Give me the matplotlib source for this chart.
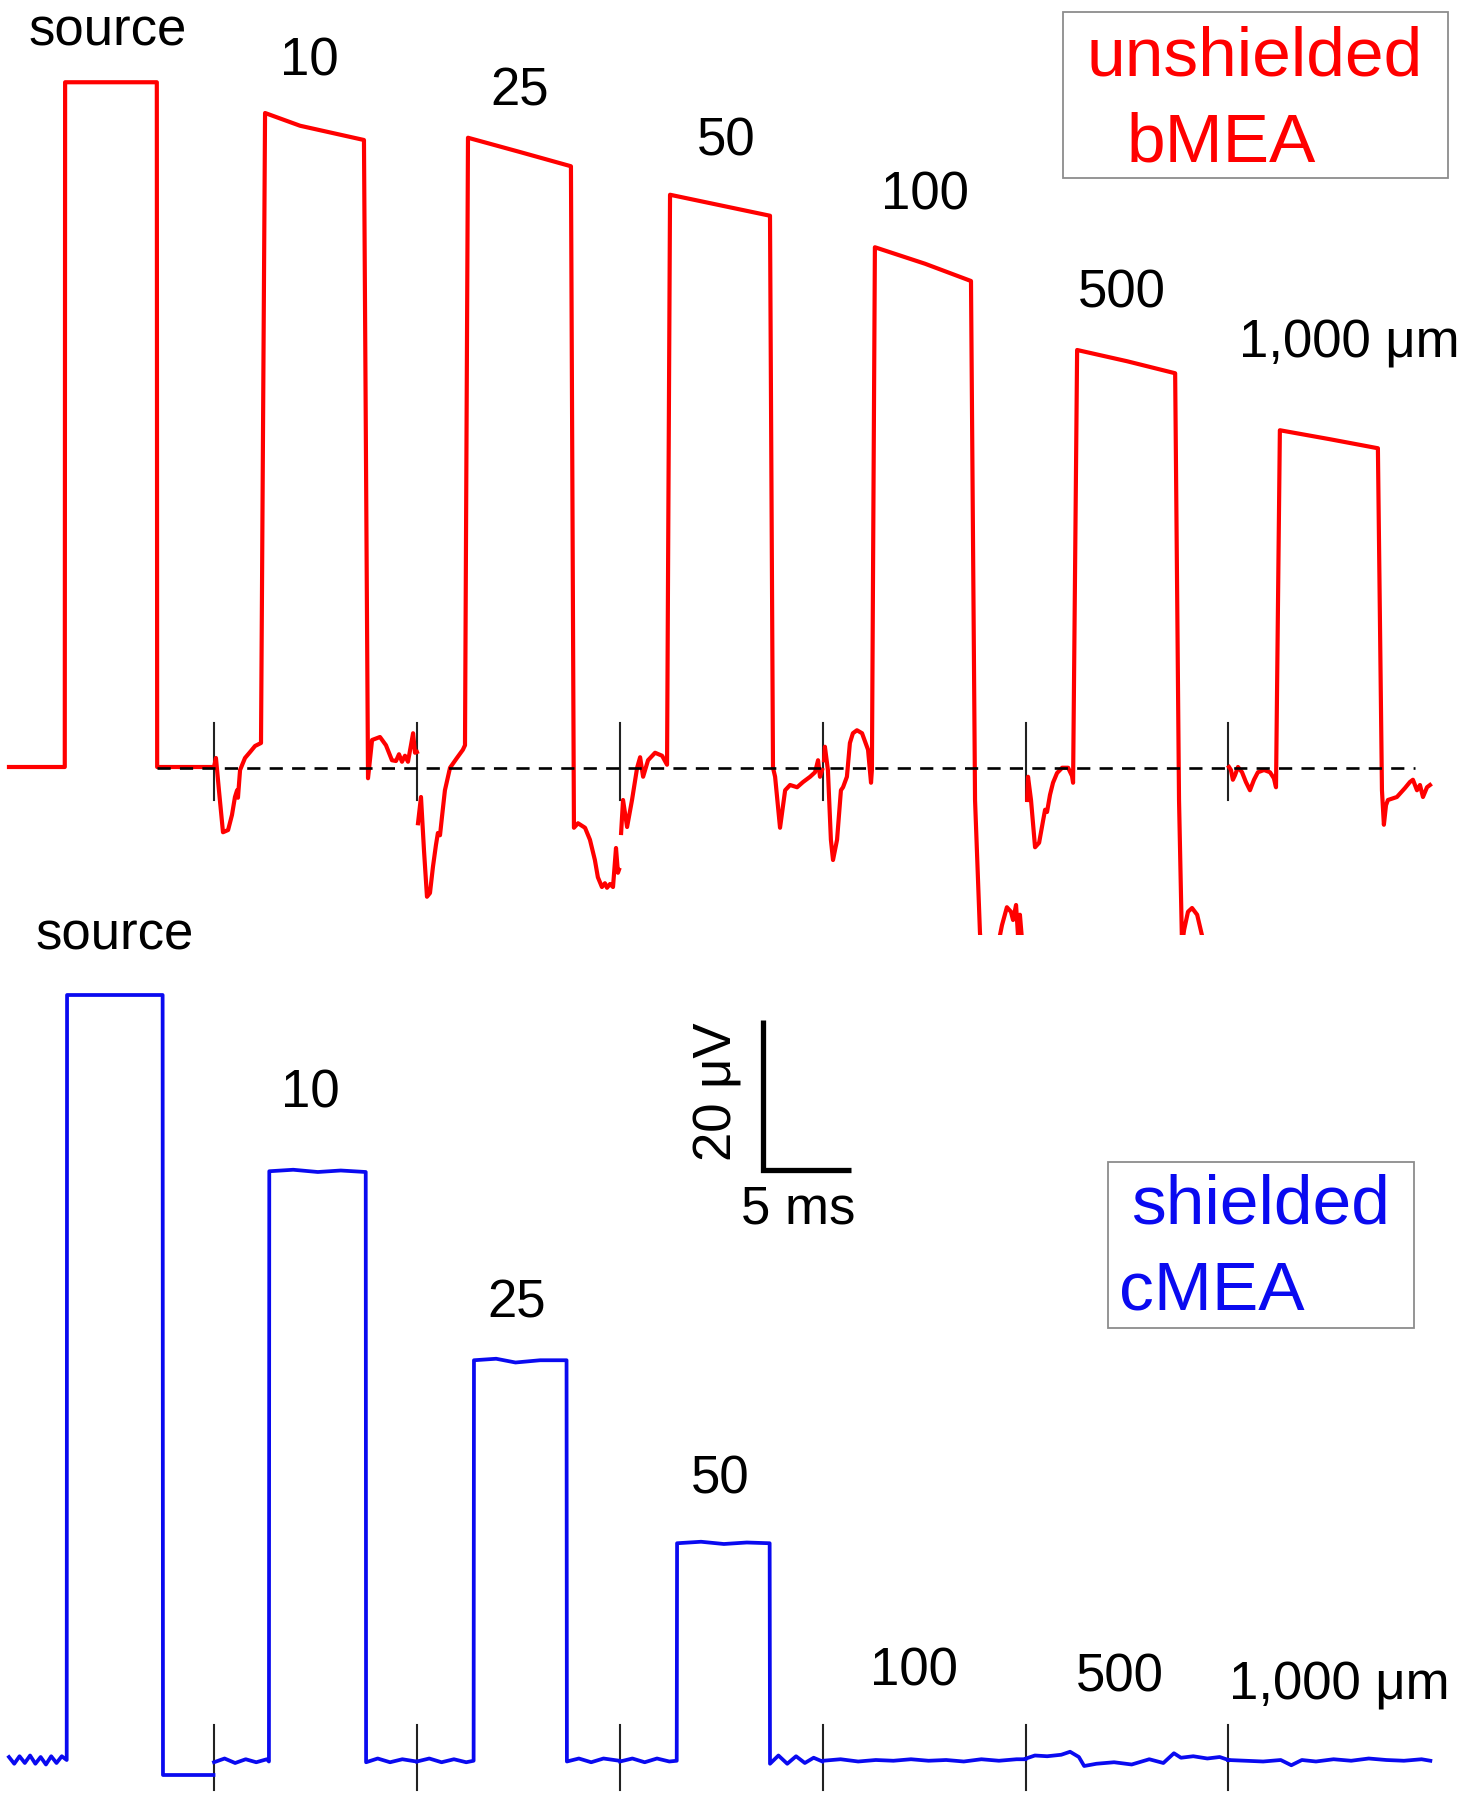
import matplotlib
matplotlib.use("Agg")
import matplotlib.pyplot as plt
from matplotlib.patches import Rectangle

plt.rcParams["font.family"] = ["Liberation Sans", "DejaVu Sans"]

# start of each sweep on the shared time axis (ms): source, then 10 ... 1000 µm
SWEEP_START = [0.51, 12.16, 23.69, 35.23, 46.76, 58.30, 69.77]
DIST_LABELS = ["source", "10", "25", "50", "100", "500", "1,000 μm"]

# ---- unshielded bMEA (red) : time from sweep start (ms), amplitude (µV) ----
red_src_t = [0.0, 3.17, 3.19, 8.40, 8.42, 11.65]
red_src_v = [0.0, 0.0, 91.3, 91.3, 0.0, 0.0]
red_10_t = [0.0, 0.11, 0.28, 0.51, 0.80, 1.02, 1.19, 1.31, 1.36, 1.48, 1.76, 2.05, 2.33, 2.67, 2.90, 4.89,
            8.52, 8.75, 8.98, 9.43, 9.77, 10.11, 10.34, 10.51, 10.68, 10.85, 11.02, 11.19, 11.31, 11.42, 11.53]
red_10_v = [0.0, 1.2, -3.1, -8.7, -8.4, -6.4, -4.0, -3.1, -4.1, -0.4, 1.2, 2.0, 2.8, 3.2, 87.2, 85.5,
            83.6, -1.5, 3.6, 4.0, 2.9, 0.9, 0.8, 1.7, 0.7, 1.5, 0.7, 2.9, 4.5, 1.9, 2.0]
red_25_t = [0.06, 0.23, 0.40, 0.57, 0.74, 0.91, 1.08, 1.19, 1.31, 1.42, 1.59, 1.88, 2.27, 2.61, 2.73, 2.90,
            5.85, 8.75, 8.92, 9.15, 9.55, 9.83, 10.11, 10.28, 10.51, 10.68, 10.80, 10.97, 11.14, 11.31, 11.42, 11.48]
red_25_v = [-7.5, -4.0, -11.1, -17.3, -16.8, -13.3, -10.4, -8.8, -9.1, -6.7, -3.1, -0.1, 1.2, 2.3, 2.9, 83.9,
            82.0, 80.1, -8.1, -7.5, -8.1, -9.7, -12.4, -14.7, -16.0, -15.5, -16.1, -15.6, -16.0, -10.8, -14.1, -13.7]
red_50_t = [0.06, 0.17, 0.40, 0.68, 0.97, 1.14, 1.31, 1.59, 1.99, 2.39, 2.67, 2.84, 5.68,
            8.52, 8.69, 8.81, 9.09, 9.38, 9.66, 10.06, 10.40, 10.80, 11.08, 11.25, 11.36, 11.48]
red_50_v = [-8.8, -4.4, -8.0, -4.4, -0.1, 1.3, -1.3, 0.9, 1.9, 1.5, 0.3, 76.3, 74.9,
            73.5, -0.1, -1.3, -8.1, -3.1, -2.4, -2.7, -2.0, -1.3, -0.7, 0.9, -1.3, -0.4]
red_100_t = [0.06, 0.11, 0.28, 0.45, 0.57, 0.80, 1.02, 1.14, 1.36, 1.53, 1.70, 1.93, 2.22, 2.56, 2.73, 2.78, 2.95,
             5.80, 8.41, 8.64, 8.92, 9.03, 9.49, 9.89, 10.17, 10.45, 10.68, 10.80, 10.97, 11.08, 11.19, 11.31, 11.48]
red_100_v = [0.9, 2.7, -0.4, -9.7, -12.4, -9.7, -3.1, -2.7, -1.3, 3.2, 4.5, 4.9, 4.5, 2.3, -2.1, -0.4, 69.3,
             67.1, 64.8, -4.4, -22.1, -25.7, -28.4, -24.4, -21.1, -18.7, -19.3, -20.4, -18.4, -22.4, -19.7, -23.1, -24.4]
red_500_t = [0.06, 0.11, 0.28, 0.51, 0.74, 0.97, 1.08, 1.19, 1.36, 1.53, 1.76, 2.05, 2.39, 2.61, 2.67, 2.90,
             5.74, 8.47, 8.69, 8.86, 8.98, 9.20, 9.43, 9.72, 10.06, 10.34, 11.42]
red_500_v = [-4.4, -1.3, -4.4, -10.7, -10.1, -7.1, -5.7, -6.0, -3.7, -2.1, -0.8, -0.1, -0.1, -1.2, -2.1, 55.6,
             54.1, 52.5, -4.4, -23.7, -21.7, -19.3, -18.8, -19.7, -23.1, -25.7, -27.1]
red_1000_t = [0.06, 0.17, 0.28, 0.40, 0.57, 0.80, 1.02, 1.25, 1.48, 1.70, 2.05, 2.39, 2.61, 2.73, 2.95,
              5.80, 8.52, 8.75, 8.86, 8.98, 9.09, 9.60, 10.06, 10.34, 10.51, 10.74, 10.91, 11.08, 11.31, 11.48]
red_1000_v = [0.0, -0.4, -1.7, -1.1, 0.0, -0.7, -2.0, -3.1, -1.7, -0.7, -0.4, -0.7, -1.5, -2.7, 44.9,
              43.7, 42.5, -3.1, -7.7, -5.1, -4.4, -4.0, -2.8, -2.0, -1.7, -3.1, -2.4, -4.0, -2.7, -2.4]

# ---- shielded cMEA (blue) ----
blue_src_t = [0.0, 0.3, 0.6, 0.9, 1.2, 1.5, 1.8, 2.1, 2.4, 2.7, 3.0, 3.28, 3.30, 8.73, 8.75, 11.62]
blue_src_v = [0.4, -0.5, 0.5, -0.4, 0.6, -0.5, 0.4, -0.6, 0.5, -0.4, 0.5, 0.0, 102.0, 102.0, -2.0, -2.0]
blue_10_t = [0.0, 0.6, 1.2, 1.8, 2.4, 3.0, 3.12, 3.14, 4.5, 5.9, 7.2, 8.62, 8.64, 9.3, 10.0, 10.7, 11.5]
blue_10_v = [-0.3, 0.2, -0.4, 0.1, -0.3, 0.1, -0.2, 78.5, 78.7, 78.4, 78.6, 78.4, -0.3, 0.2, -0.3, 0.1, -0.2]
blue_25_t = [0.0, 0.7, 1.4, 2.1, 2.8, 3.22, 3.24, 4.5, 5.6, 7.0, 8.50, 8.52, 9.2, 9.9, 10.6, 11.5]
blue_25_v = [-0.2, 0.2, -0.3, 0.1, -0.3, -0.1, 53.3, 53.5, 53.0, 53.3, 53.3, -0.2, 0.2, -0.3, 0.2, -0.1]
blue_50_t = [0.0, 0.7, 1.4, 2.1, 2.8, 3.22, 3.24, 4.6, 5.9, 7.2, 8.50, 8.52, 9.0, 9.5, 10.0, 10.5, 11.0, 11.5]
blue_50_v = [-0.2, 0.2, -0.3, 0.2, -0.2, -0.1, 28.9, 29.1, 28.8, 29.0, 28.9, -0.5, 0.6, -0.5, 0.5, -0.4, 0.3, -0.2]
blue_100_t = [0.0, 1.0, 2.0, 3.0, 4.0, 5.0, 6.0, 7.0, 8.0, 9.0, 10.0, 11.0, 11.5]
blue_100_v = [-0.1, 0.1, -0.2, 0.0, -0.1, 0.1, -0.1, 0.0, -0.2, 0.1, -0.1, 0.1, 0.1]
blue_500_t = [0.0, 0.5, 1.2, 2.0, 2.5, 3.0, 3.3, 4.0, 5.0, 6.0, 7.0, 7.8, 8.4, 8.8, 9.5, 10.3, 11.0, 11.5]
blue_500_v = [0.2, 0.6, 0.5, 0.7, 1.1, 0.4, -0.8, -0.5, -0.3, -0.6, 0.1, -0.4, 0.9, 0.3, 0.5, 0.2, 0.4, 0.0]
blue_1000_t = [0.0, 1.0, 2.0, 3.0, 3.6, 4.2, 5.0, 6.0, 7.0, 8.0, 9.0, 10.0, 11.0, 11.5]
blue_1000_v = [0.0, -0.1, -0.2, 0.0, -0.7, 0.0, -0.2, 0.1, -0.1, 0.2, 0.0, -0.1, 0.1, -0.1]

RED = [(red_src_t, red_src_v), (red_10_t, red_10_v), (red_25_t, red_25_v), (red_50_t, red_50_v),
       (red_100_t, red_100_v), (red_500_t, red_500_v), (red_1000_t, red_1000_v)]
BLUE = [(blue_src_t, blue_src_v), (blue_10_t, blue_10_v), (blue_25_t, blue_25_v), (blue_50_t, blue_50_v),
        (blue_100_t, blue_100_v), (blue_500_t, blue_500_v), (blue_1000_t, blue_1000_v)]

TOP_BASE = 132.4      # µV offset of the red panel baseline
RED_CLIP = -22.4      # red traces are cut below this (µV, rel. to baseline)
SCALE_X, SCALE_Y = 43.35, 78.7   # scale bar corner (ms, µV)
SCALE_MS, SCALE_UV = 5, 20

W, H = 1464, 1800
fig = plt.figure(figsize=(W / 100, H / 100), dpi=100)
ax = fig.add_axes([0, 0, 1, 1])
ax.set_xlim(0, W / 17.6)
ax.set_ylim(-40 / 7.5, 1760 / 7.5)
ax.axis("off")

RED_C = "#ff0000"
BLUE_C = "#0a0af0"

clip = Rectangle((0, TOP_BASE + RED_CLIP), 100, 200, transform=ax.transData)
for t0, (ts, vs) in zip(SWEEP_START, RED):
    ln, = ax.plot([t0 + t for t in ts], [TOP_BASE + v for v in vs],
                  color=RED_C, lw=3.0, solid_joinstyle="round", zorder=3)
    ln.set_clip_path(clip)
for t0, (ts, vs) in zip(SWEEP_START, BLUE):
    ax.plot([t0 + t for t in ts], list(vs), color=BLUE_C, lw=2.7,
            solid_joinstyle="round", zorder=3)

# sweep boundaries
for t0 in SWEEP_START[1:]:
    ax.plot([t0, t0], [TOP_BASE - 4.4, TOP_BASE + 5.9], color="#222222", lw=1.5, zorder=2)
    ax.plot([t0, t0], [-4.0, 4.7], color="#222222", lw=1.5, zorder=2)

# zero reference for the red panel
ax.plot([8.92, 80.4], [TOP_BASE - 0.1, TOP_BASE - 0.1], color="black", lw=1.9,
        linestyle=(0, (5, 3.5)), zorder=4)

# scale bar
ax.plot([SCALE_X, SCALE_X, SCALE_X + SCALE_MS], [SCALE_Y + SCALE_UV, SCALE_Y, SCALE_Y],
        color="black", lw=3.8, solid_joinstyle="miter", solid_capstyle="butt")


def px(x, y):
    return x / W, 1 - y / H


FS = 38
top_pos = [(108, 45), (309, 75), (520, 106), (726, 155), (925, 210), (1122, 308), (1349, 358)]
bot_pos = [(115, 950), (310, 1108), (517, 1317), (720, 1493), (914, 1686), (1120, 1692), (1339, 1700)]
for lab, (x, y) in zip(DIST_LABELS, top_pos):
    fig.text(*px(x, y), lab, fontsize=FS, ha="center", va="baseline")
for lab, (x, y) in zip(DIST_LABELS, bot_pos):
    fig.text(*px(x, y), lab, fontsize=FS, ha="center", va="baseline")

fig.text(*px(717, 1092), "20 μV", fontsize=FS, rotation=90, ha="center", va="center")
fig.text(*px(798, 1223), "5 ms", fontsize=FS, ha="center", va="baseline")

# condition boxes
for (x0, y0, x1, y1) in [(1063, 12, 1448, 178), (1108, 1162, 1414, 1328)]:
    fig.add_artist(Rectangle(px(x0, y1), (x1 - x0) / W, (y1 - y0) / H,
                             transform=fig.transFigure, fill=False,
                             edgecolor="#8c8c8c", lw=1.3))
fig.text(*px(1255, 75), "unshielded", fontsize=50, color=RED_C, ha="center", va="baseline")
fig.text(*px(1127, 162), "bMEA", fontsize=50, color=RED_C, ha="left", va="baseline")
fig.text(*px(1261, 1223), "shielded", fontsize=50, color=BLUE_C, ha="center", va="baseline")
fig.text(*px(1119, 1309), "cMEA", fontsize=50, color=BLUE_C, ha="left", va="baseline")

fig.savefig("out.png", dpi=100)
